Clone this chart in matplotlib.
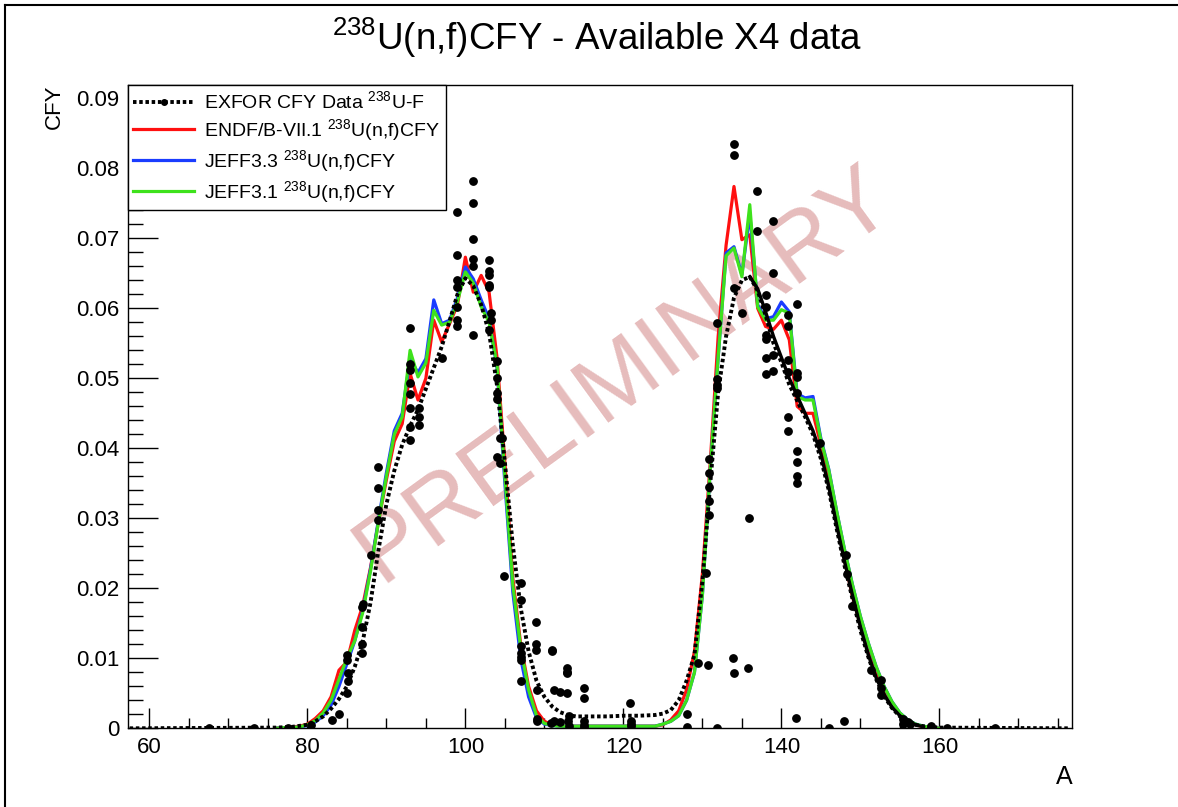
import matplotlib
matplotlib.use('Agg')
import matplotlib.pyplot as plt
from matplotlib.lines import Line2D
from matplotlib.ticker import MultipleLocator, FuncFormatter

plt.rcParams['font.family'] = ['Liberation Sans', 'DejaVu Sans']
plt.rcParams['mathtext.default'] = 'regular'

# Mass numbers of the evaluated libraries (76..160)
mass_eval = list(range(76, 161))

endf_cfy = [
    0.0, 0.0001, 0.0002, 0.0003, 0.0006, 0.0014, 0.0025, 0.0045, 0.0083, 0.0095,
    0.0140, 0.0175, 0.0230, 0.0295, 0.0355, 0.0410, 0.0435, 0.0507, 0.0469, 0.0500,
    0.0583, 0.0552, 0.0578, 0.0605, 0.0673, 0.0623, 0.0647, 0.0623, 0.0530, 0.0380,
    0.0215, 0.0120, 0.0060, 0.0025, 0.0010, 0.0005, 0.0003, 0.0003, 0.0003, 0.0003,
    0.0003, 0.0003, 0.0003, 0.0003, 0.0003, 0.0003, 0.0003, 0.0003, 0.0003, 0.0005,
    0.0012, 0.0025, 0.0055, 0.0110, 0.0220, 0.0380, 0.0560, 0.0690, 0.0774, 0.0698,
    0.0705, 0.0600, 0.0574, 0.0570, 0.0583, 0.0555, 0.0460, 0.0450, 0.0450, 0.0405,
    0.0360, 0.0300, 0.0240, 0.0188, 0.0148, 0.0112, 0.0080, 0.0055, 0.0035, 0.0020,
    0.0011, 0.0005, 0.0002, 0.0001, 0.0,
]
jeff33_cfy = [
    0.0, 0.0001, 0.0001, 0.0002, 0.0004, 0.0009, 0.0018, 0.0033, 0.0060, 0.0092,
    0.0125, 0.0168, 0.0228, 0.0298, 0.0365, 0.0425, 0.0450, 0.0528, 0.0508, 0.0528,
    0.0612, 0.0578, 0.0583, 0.0615, 0.0659, 0.0642, 0.0612, 0.0585, 0.0515, 0.0350,
    0.0195, 0.0100, 0.0045, 0.0015, 0.0006, 0.0004, 0.0003, 0.0003, 0.0003, 0.0003,
    0.0003, 0.0003, 0.0003, 0.0003, 0.0003, 0.0003, 0.0003, 0.0003, 0.0003, 0.0006,
    0.0010, 0.0018, 0.0040, 0.0080, 0.0190, 0.0370, 0.0530, 0.0679, 0.0688, 0.0648,
    0.0735, 0.0605, 0.0585, 0.0588, 0.0609, 0.0595, 0.0478, 0.0472, 0.0474, 0.0414,
    0.0370, 0.0310, 0.0255, 0.0205, 0.0160, 0.0122, 0.0088, 0.0060, 0.0038, 0.0022,
    0.0012, 0.0006, 0.0003, 0.0001, 0.0,
]
jeff31_cfy = [
    0.0, 0.0001, 0.0001, 0.0002, 0.0005, 0.0011, 0.0022, 0.0040, 0.0070, 0.0100,
    0.0125, 0.0165, 0.0225, 0.0295, 0.0360, 0.0420, 0.0445, 0.0540, 0.0502, 0.0522,
    0.0597, 0.0576, 0.0580, 0.0610, 0.0652, 0.0636, 0.0602, 0.0580, 0.0520, 0.0360,
    0.0205, 0.0115, 0.0055, 0.0018, 0.0007, 0.0004, 0.0003, 0.0003, 0.0003, 0.0003,
    0.0003, 0.0003, 0.0003, 0.0003, 0.0003, 0.0003, 0.0003, 0.0003, 0.0003, 0.0006,
    0.0010, 0.0018, 0.0040, 0.0080, 0.0190, 0.0370, 0.0530, 0.0675, 0.0686, 0.0645,
    0.0748, 0.0602, 0.0583, 0.0583, 0.0598, 0.0593, 0.0474, 0.0469, 0.0469, 0.0412,
    0.0369, 0.0310, 0.0255, 0.0205, 0.0160, 0.0122, 0.0088, 0.0060, 0.0038, 0.0022,
    0.0012, 0.0006, 0.0003, 0.0001, 0.0,
]

# Smooth EXFOR-type curve (dotted)
exfor_curve_A = [57.5, 76, 78] + list(range(80, 115)) + [116, 118, 120, 122, 124] \
    + list(range(125, 159)) + [160, 176.5]
exfor_curve_cfy = [
    0.0, 0.0001, 0.0002,
    0.0005, 0.0010, 0.0017, 0.0028, 0.0042, 0.0060, 0.0088, 0.0124, 0.0180, 0.0255,
    0.0320, 0.0368, 0.0405, 0.0432, 0.0455, 0.0485, 0.0515, 0.0545, 0.0582, 0.0620,
    0.0643, 0.0632, 0.0605, 0.0565, 0.0490, 0.0380, 0.0262, 0.0172, 0.0110, 0.0068,
    0.0045, 0.0031, 0.0023, 0.0019, 0.0017,
    0.0017, 0.0017, 0.0018, 0.0018, 0.0019,
    0.0021, 0.0026, 0.0040, 0.0068, 0.0105, 0.0210, 0.0350, 0.0480, 0.0560, 0.0615,
    0.0640, 0.0645, 0.0625, 0.0590, 0.0550, 0.0523, 0.0491, 0.0468, 0.0445, 0.0420,
    0.0385, 0.0340, 0.0285, 0.0232, 0.0185, 0.0140, 0.0102, 0.0070, 0.0046, 0.0029,
    0.0017, 0.0010, 0.0005, 0.0003,
    0.0001, 0.0,
]

# Solid black curve on the heavy side
heavy_solid_A = list(range(136, 159))
heavy_solid_cfy = [
    0.0645, 0.0628, 0.0595, 0.0560, 0.0530, 0.0500, 0.0475, 0.0450, 0.0425, 0.0392,
    0.0345, 0.0290, 0.0238, 0.0190, 0.0145, 0.0105, 0.0072, 0.0048, 0.0030, 0.0018,
    0.0010, 0.0005, 0.0002,
]

# Individual EXFOR points
exfor_pts_A = [
    67.5, 73.3, 77.5, 80.4, 83.1, 84.0,
    85.0, 85.2, 85.2, 85.0, 85.0,
    86.9, 86.9, 86.9, 86.9, 87.0,
    88.0, 89.0, 88.9, 89.0, 89.0,
    93.0, 93.0, 93.0, 93.0, 93.0, 93.0, 93.0, 93.0,
    94.1, 94.1, 94.1, 97.1,
    98.9, 98.9, 98.9, 98.9, 98.9, 98.9, 98.9,
    101.0, 101.0, 101.0, 101.0, 101.0, 101.0,
    103.0, 103.0, 103.0, 103.0, 103.0, 103.2, 103.2, 103.0,
    104.0, 104.0, 104.0, 104.0, 104.4, 104.6, 104.0, 104.4,
    104.9,
    107.0, 107.0, 107.0, 107.0, 107.0, 107.0, 107.0,
    108.9, 108.9, 108.9, 109.1, 109.1, 109.1,
    111.0, 111.0, 111.2, 111.2, 110.8, 112.0, 112.0,
    112.9, 112.9, 112.9, 112.9, 113.1, 113.1, 113.0,
    115.0, 115.0, 115.0, 115.0, 115.0,
    120.9, 121.0, 121.0, 121.0,
    128.1, 128.1, 129.4, 130.7, 130.5, 131.9,
    130.9, 130.9, 130.9, 130.9, 130.9,
    131.9, 131.9, 131.9, 131.9,
    133.9, 134.0, 135.8, 135.9,
    134.0, 134.0, 134.0, 135.0,
    136.9, 136.9,
    138.0, 138.0, 138.0, 138.0, 138.0, 138.0,
    138.9, 138.9, 138.9, 138.9,
    140.9, 140.9, 140.9, 140.9, 140.9, 140.9,
    142.0, 142.0, 142.0, 142.0, 142.0, 142.0, 142.0, 142.0,
    141.9, 144.9, 146.0, 147.9,
    148.2, 148.3, 149.0,
    151.4, 152.6, 152.6, 152.6,
    155.4, 155.4, 156.0, 156.3, 159.0, 161.0, 167.0,
]
exfor_pts_cfy = [
    0.0001, 0.0001, 0.0001, 0.0005, 0.0012, 0.0021,
    0.0050, 0.0067, 0.0079, 0.0098, 0.0105,
    0.0107, 0.0121, 0.0145, 0.0174, 0.0178,
    0.0248, 0.0298, 0.0312, 0.0343, 0.0374,
    0.0572, 0.0521, 0.0512, 0.0493, 0.0478, 0.0457, 0.0431, 0.0412,
    0.0457, 0.0445, 0.0433, 0.0529,
    0.0737, 0.0676, 0.0640, 0.0631, 0.0602, 0.0583, 0.0574,
    0.0782, 0.0750, 0.0699, 0.0670, 0.0660, 0.0562,
    0.0669, 0.0653, 0.0648, 0.0633, 0.0630, 0.0593, 0.0583, 0.0569,
    0.0524, 0.0500, 0.0479, 0.0470, 0.0414, 0.0414, 0.0388, 0.0379,
    0.0217,
    0.0207, 0.0183, 0.0117, 0.0107, 0.0102, 0.0098, 0.0067,
    0.0152, 0.0121, 0.0112, 0.0055, 0.0014, 0.0010,
    0.0112, 0.0110, 0.0055, 0.0010, 0.0007, 0.0052, 0.0009,
    0.0086, 0.0081, 0.0079, 0.0050, 0.0017, 0.0003, 0.0011,
    0.0057, 0.0043, 0.0011, 0.0005, 0.0002,
    0.0036, 0.0010, 0.0006, 0.0003,
    0.0021, 0.0002, 0.0094, 0.0091, 0.0222, 0.0001,
    0.0385, 0.0365, 0.0345, 0.0325, 0.0305,
    0.0579, 0.0499, 0.0490, 0.0486,
    0.0100, 0.0079, 0.0086, 0.0300,
    0.0835, 0.0819, 0.0629, 0.0593,
    0.0768, 0.0710,
    0.0619, 0.0602, 0.0562, 0.0556, 0.0529, 0.0506,
    0.0725, 0.0651, 0.0533, 0.0511,
    0.0590, 0.0575, 0.0526, 0.0509, 0.0445, 0.0425,
    0.0606, 0.0507, 0.0502, 0.0479, 0.0396, 0.0381, 0.0360, 0.0350,
    0.0015, 0.0407, 0.0001, 0.0010,
    0.0248, 0.0220, 0.0175,
    0.0083, 0.0069, 0.0058, 0.0048,
    0.0013, 0.0006, 0.0009, 0.0006, 0.0003, 0.0001, 0.0,
]

fig = plt.figure(figsize=(11.78, 8.07), dpi=100)
ax = fig.add_axes([0.1087, 0.0975, 0.8014, 0.7972])

# Watermark
ax.text(0.525, 0.55, 'PRELIMINARY', transform=ax.transAxes, rotation=36,
        fontsize=68, color='#e6bcbc', ha='center', va='center', zorder=0)

# Evaluations
ax.plot(mass_eval, endf_cfy, color='#ff1010', lw=2.3, zorder=2)
ax.plot(mass_eval, jeff33_cfy, color='#1a3cff', lw=2.3, zorder=2)
ax.plot(mass_eval, jeff31_cfy, color='#3ee21c', lw=2.3, zorder=2)

# EXFOR data
ax.plot(exfor_curve_A, exfor_curve_cfy, color='black', lw=2.8, ls=(0, (0.9, 0.7)), zorder=3)
ax.plot(heavy_solid_A, heavy_solid_cfy, color='black', lw=2.4, zorder=3)
ax.plot(exfor_pts_A, exfor_pts_cfy, 'o', color='black', ms=5.3, zorder=4)

ax.set_xlim(57.3, 176.8)
ax.set_ylim(0, 0.0919)

# Ticks (ROOT style: inside, bottom/left only)
ax.xaxis.set_major_locator(MultipleLocator(20))
ax.xaxis.set_minor_locator(MultipleLocator(5))
ax.yaxis.set_major_locator(MultipleLocator(0.01))
ax.yaxis.set_minor_locator(MultipleLocator(0.002))
ax.yaxis.set_major_formatter(FuncFormatter(lambda v, p: '0' if abs(v) < 1e-9 else '%.2f' % v))
ax.tick_params(axis='x', which='major', direction='in', length=14.4, width=1, labelsize=16, pad=6)
ax.tick_params(axis='x', which='minor', direction='in', length=7.2, width=1)
ax.tick_params(axis='y', which='major', direction='in', length=21.6, width=1, labelsize=16, pad=6)
ax.tick_params(axis='y', which='minor', direction='in', length=11, width=1)
for s in ax.spines.values():
    s.set_linewidth(1)

ax.set_xlabel('A', fontsize=18, loc='right')
ax.xaxis.set_label_coords(1.0, -0.057)
ax.set_ylabel('CFY', fontsize=16, loc='top')
ax.yaxis.set_label_coords(-0.067, 1.0)

# Legend
handles = [
    Line2D([], [], color='black', lw=2.8, ls=(0, (0.9, 0.7)), marker='o', ms=4),
    Line2D([], [], color='#ff1010', lw=2.3),
    Line2D([], [], color='#1a3cff', lw=2.3),
    Line2D([], [], color='#3ee21c', lw=2.3),
]
labels = [
    r'EXFOR CFY Data $^{238}$U-F',
    r'ENDF/B-VII.1 $^{238}$U(n,f)CFY',
    r'JEFF3.3 $^{238}$U(n,f)CFY',
    r'JEFF3.1 $^{238}$U(n,f)CFY',
]
leg = ax.legend(handles, labels, loc='upper left', bbox_to_anchor=(0, 1), borderaxespad=0,
                fontsize=14, handlelength=3.1, handletextpad=0.55, labelspacing=0.25,
                borderpad=0.28, fancybox=False, framealpha=1, edgecolor='black')
leg.get_frame().set_linewidth(1)
leg.set_zorder(10)

# Title
fig.text(0.507, 0.953, r'$^{238}$U(n,f)CFY - Available X4 data', fontsize=26.5,
         ha='center', va='center')

# Canvas frame (left and top edges)
fig.add_artist(Line2D([0.0045, 0.0045], [0, 0.994], transform=fig.transFigure, color='black', lw=1.5))
fig.add_artist(Line2D([0.0045, 1.0], [0.994, 0.994], transform=fig.transFigure, color='black', lw=1.5))

fig.savefig('out.png', dpi=100)
